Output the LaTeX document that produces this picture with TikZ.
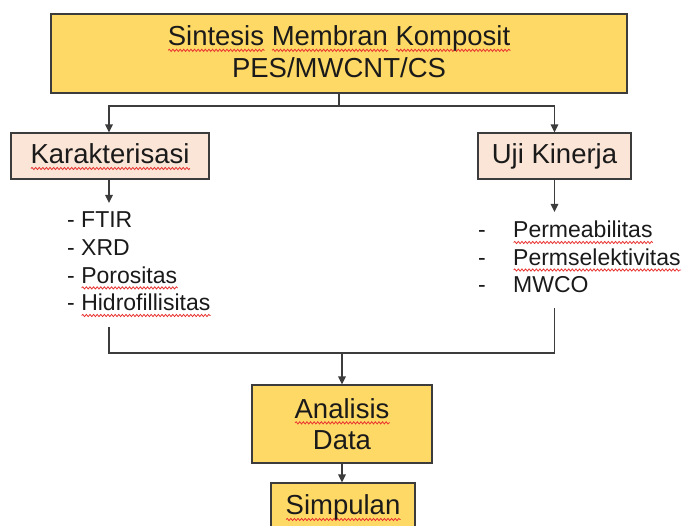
\documentclass[tikz,border=0pt]{standalone}
\usepackage{fontspec}
\setmainfont{Liberation Sans}
\usetikzlibrary{arrows.meta,decorations.pathmorphing}
\definecolor{boxyellow}{HTML}{FFD966}
\definecolor{boxpeach}{HTML}{FBE5D6}
\definecolor{wavered}{HTML}{E8322F}
\definecolor{linegray}{HTML}{3C3C3C}
\definecolor{textdark}{HTML}{1A1A1A}
\newsavebox\sqbox
\newcommand\sq[1]{\sbox\sqbox{#1}\rlap{\tikz[baseline=0pt]\draw[draw=wavered, line width=0.8pt, decorate, decoration={snake, amplitude=1.1pt, segment length=3.6pt}] (0pt,-4.5pt) -- (\wd\sqbox,-4.5pt);}\usebox\sqbox}
\tikzset{
  box/.style={draw=linegray, line width=1.2pt, inner sep=0pt, text=textdark},
  bigtext/.style={font=\fontsize{27.5}{32}\selectfont},
  listtext/.style={font=\fontsize{23}{27}\selectfont, text=textdark, inner sep=0pt, anchor=base west},
  conn/.style={draw=linegray, line width=1.3pt},
  arr/.style={conn, -{Triangle[length=8pt,width=7.5pt]}}
}
\begin{document}
\begin{tikzpicture}[x=1pt,y=-1pt]
\useasboundingbox (0,0) rectangle (686,526);
\clip (0,0) rectangle (686,526);
\fill[white] (0,0) rectangle (686,526);
% boxes
\node[box, fill=boxyellow, minimum width=576, minimum height=79] (top) at (339,53.5) {};
\node[bigtext, text=textdark, align=center, inner sep=0pt] (toptext) at (339,52)
  {\sq{Sintesis} \sq{Membran} \sq{Komposit}\\PES/MWCNT/CS};
\node[box, bigtext, fill=boxpeach, minimum width=198, minimum height=46, text height=20pt, text depth=4pt] (k) at (110,156) {\sq{Karakterisasi}};
\node[box, bigtext, fill=boxpeach, minimum width=153, minimum height=46, text height=20pt, text depth=4pt] (u) at (554.5,156) {Uji Kinerja};
\node[box, font=\fontsize{27.5}{31}\selectfont, fill=boxyellow, minimum width=180, minimum height=78, align=center] (a) at (342,424) {\sq{Analisis}\\Data};
\node[box, bigtext, fill=boxyellow, minimum width=144, minimum height=48, text height=20pt, text depth=4pt] (s) at (343,507) {\sq{Simpulan}};
% lists
\node[listtext] (l1) at (67,228) {- FTIR};
\node[listtext] (l2) at (67,255.7) {- XRD};
\node[listtext] (l3) at (67,283.4) {- \sq{Porositas}};
\node[listtext] (l4) at (67,311) {- \sq{Hidrofillisitas}};
\node[listtext] (r1) at (478,238) {\makebox[35pt][l]{-}\sq{Permeabilitas}};
\node[listtext] (r2) at (478,265.5) {\makebox[35pt][l]{-}\sq{Permselektivitas}};
\node[listtext] (r3) at (478,293) {\makebox[35pt][l]{-}MWCO};
% connectors
\coordinate (split) at (339,106);
\coordinate (kEnd) at (109,203);
\coordinate (uEnd) at (554.5,212);
\coordinate (lB) at (109,327);
\coordinate (rB) at (554.5,308);
\coordinate (mid) at (342,353);
\draw[conn] (top.south) -- (split);
\draw[arr] (split) -| (k.north -| kEnd);
\draw[arr] (split) -| (u.north);
\draw[arr] (k.south -| kEnd) -- (kEnd);
\draw[arr] (u.south) -- (uEnd);
\draw[conn] (lB) |- (rB |- mid) -- (rB);
\draw[arr] (mid) -- (a.north);
\draw[arr] (a.south) -- (a.south |- s.north);
\end{tikzpicture}
\end{document}
